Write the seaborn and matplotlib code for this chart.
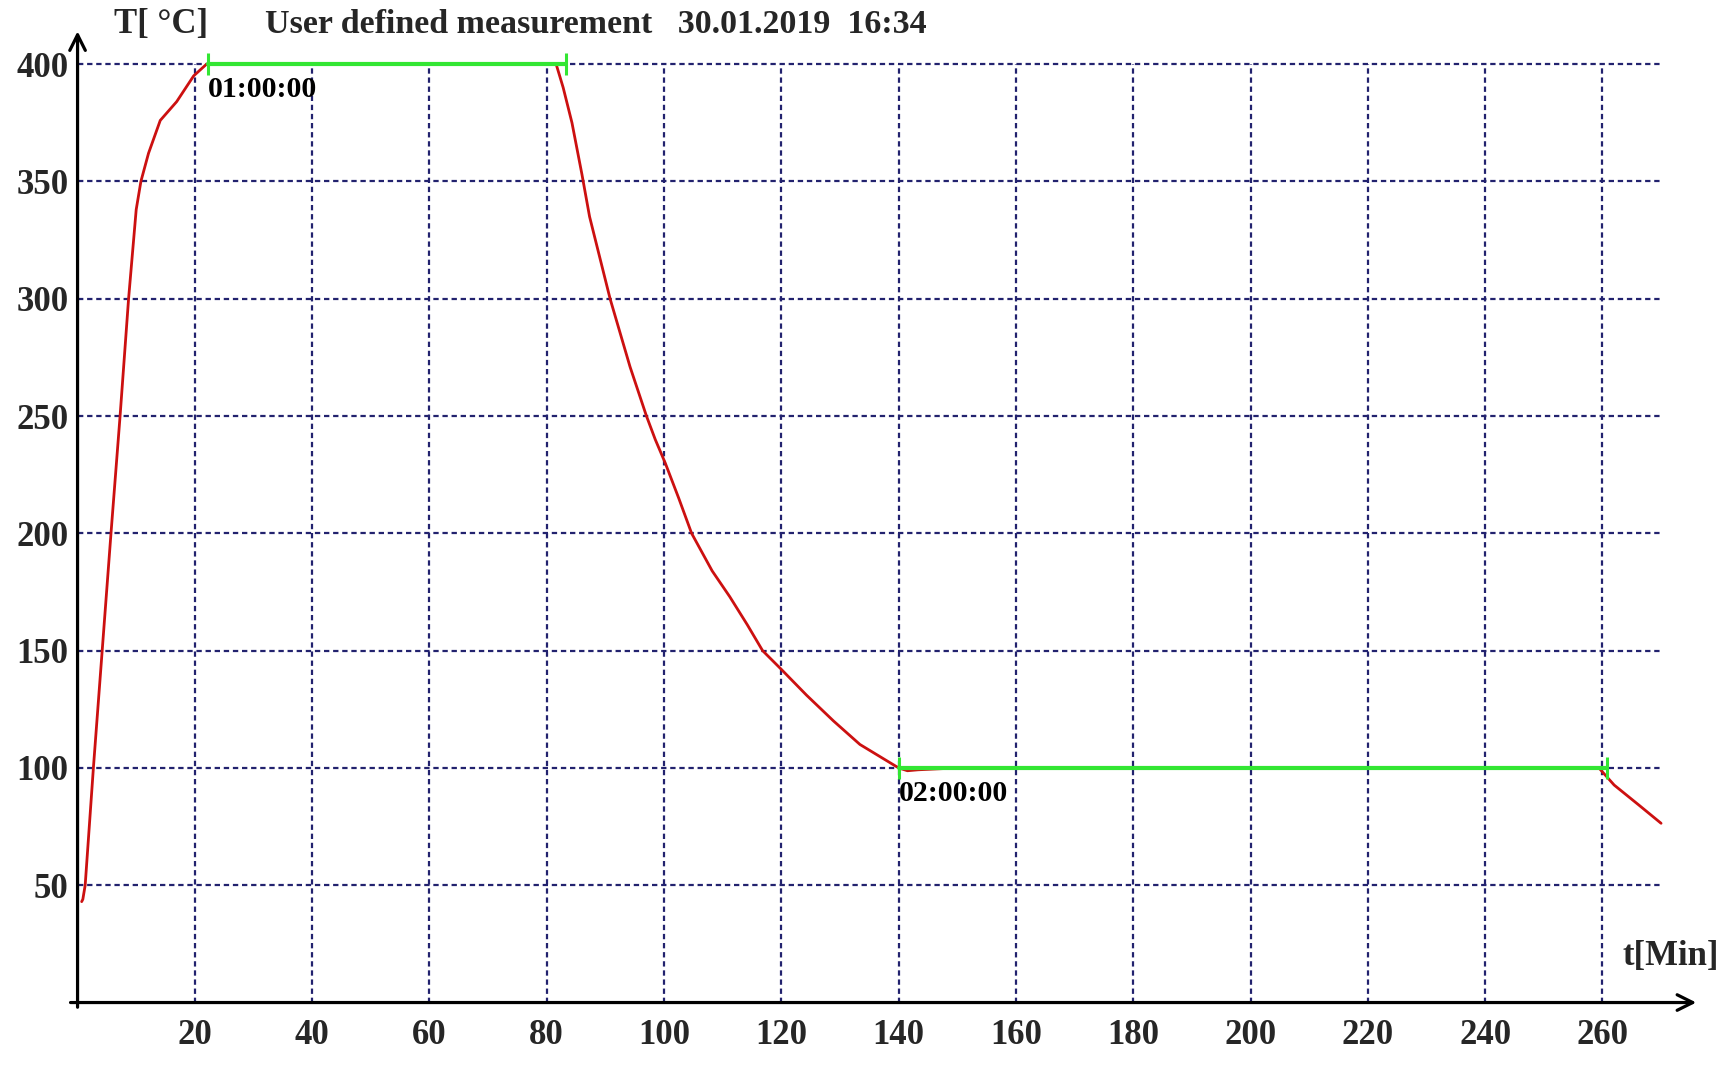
import matplotlib
matplotlib.use("Agg")
import matplotlib.pyplot as plt
import seaborn as sns
import pandas as pd

# ---- data ----
time_min = [0.7, 0.9, 1.3, 2.7, 4.2, 5.7, 7.25, 8.7, 10.0, 10.8, 12.1, 14.1, 16.9, 19.8, 22.0,
            81.6, 82.8, 84.3, 86.0, 87.3, 90.8, 94.2, 97.0, 98.5, 100.2, 102.5, 104.7, 108.2,
            111.2, 114.2, 116.8, 120.0, 124.3, 128.9, 133.4, 140.0,
            141.5, 143.3, 150.0, 259.4, 262.0, 266.2, 270.0]
temp_c = [43, 44, 50, 100, 150, 200, 250, 300, 338, 350, 362, 376, 384, 395, 400,
          400, 390, 375, 353, 335, 300, 271, 250, 240, 230, 215, 200, 184,
          173, 161, 150, 142, 131, 120, 110, 100,
          98.8, 99.2, 100, 100, 92.7, 84.2, 76.4]

hold1_t = [22.3, 83.3]
hold1_T = [400, 400]
hold2_t = [140.0, 260.8]
hold2_T = [100, 100]

x_ticks = [20, 40, 60, 80, 100, 120, 140, 160, 180, 200, 220, 240, 260]
y_ticks = [50, 100, 150, 200, 250, 300, 350, 400]

title = "User defined measurement   30.01.2019  16:34"
y_label = "T[ °C]"
x_label = "t[Min]"
marks = [("01:00:00", 22.3, 389), ("02:00:00", 140.0, 89)]

# ---- style ----
sns.set_style("white")
plt.rcParams['font.family'] = ['Liberation Serif', 'DejaVu Serif']
plt.rcParams['font.weight'] = 'bold'

fig = plt.figure(figsize=(17.35, 10.68), dpi=100)
ax = fig.add_axes([0.0447, 0.0613, 0.9465, 0.9226])
ax.set_xlim(0, 280)
ax.set_ylim(0, 420)
for s in ax.spines.values():
    s.set_visible(False)

grid_col = "#22226e"
ax.hlines(y_ticks, 0, 270, colors=grid_col, linestyles=(0, (2.4, 1.7)), linewidth=1.6, zorder=1)
ax.vlines(x_ticks, 0, 400, colors=grid_col, linestyles=(0, (2.4, 1.7)), linewidth=1.6, zorder=1)

df = pd.DataFrame({"t": time_min, "T": temp_c})
sns.lineplot(data=df, x="t", y="T", sort=False, color="#cc1010", linewidth=2.0, ax=ax, zorder=3)

g1 = pd.DataFrame({"t": hold1_t, "T": hold1_T})
g2 = pd.DataFrame({"t": hold2_t, "T": hold2_T})
for g in (g1, g2):
    sns.lineplot(data=g, x="t", y="T", sort=False, color="#33e633", linewidth=3.0,
                 marker="|", markersize=16, markeredgewidth=2.2, markeredgecolor="#33e633",
                 ax=ax, zorder=4)

# axes with arrows
ax.annotate("", xy=(276, 0), xytext=(-1.2, 0), annotation_clip=False,
            arrowprops=dict(arrowstyle="->", lw=2.3, color="black",
                            mutation_scale=28, shrinkA=0, shrinkB=0))
ax.annotate("", xy=(0, 414), xytext=(0, -2), annotation_clip=False,
            arrowprops=dict(arrowstyle="->", lw=2.3, color="black",
                            mutation_scale=28, shrinkA=0, shrinkB=0))

ax.set_xticks(x_ticks)
ax.set_yticks(y_ticks)
ax.set_xticklabels([str(v) for v in x_ticks])
ax.set_yticklabels([str(v) for v in y_ticks])
ax.tick_params(axis="x", direction="inout", length=12, width=2, color="black",
               pad=6, labelsize=25)
ax.tick_params(axis="y", direction="inout", length=8, width=2, color="black",
               pad=2.5, labelsize=25)
for lab in ax.get_xticklabels() + ax.get_yticklabels():
    lab.set_fontweight("bold")
ax.set_xlabel("")
ax.set_ylabel("")

for txt, tx, ty in marks:
    ax.text(tx, ty, txt, ha="left", va="center", fontsize=21.5, fontweight="bold", color="black")

fig.text(0.0657, 0.977, y_label, ha="left", va="center", fontsize=25, fontweight="bold")
fig.text(0.153, 0.977, title, ha="left", va="center", fontsize=24.5, fontweight="bold")
fig.text(0.991, 0.104, x_label, ha="right", va="center", fontsize=25, fontweight="bold")

fig.savefig("out.png", dpi=100, facecolor="white")
